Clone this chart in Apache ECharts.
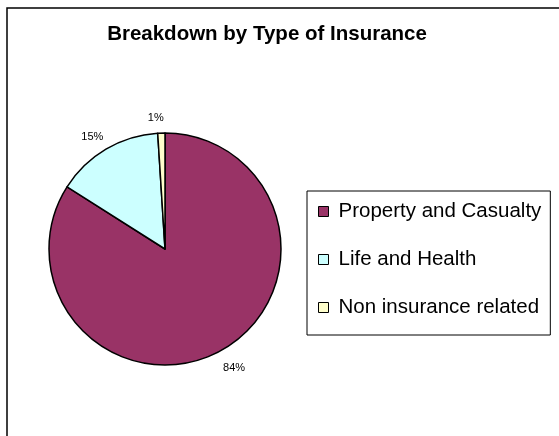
<!DOCTYPE html>
<html>
<head>
<meta charset="utf-8">
<script src="https://cdn.jsdelivr.net/npm/echarts@6/dist/echarts.min.js"></script>
<style>
html,body{margin:0;padding:0;background:#fff;}
#chart{width:559px;height:436px;}
</style>
</head>
<body>
<div id="chart"></div>
<script>
var titleText = 'Breakdown by Type of Insurance';
var categories = ['Property and Casualty', 'Life and Health', 'Non insurance related'];
var values = [84, 15, 1];
var colors = ['#993366', '#CCFFFF', '#FFFFCC'];

var chart = echarts.init(document.getElementById('chart'), null, {renderer: 'canvas'});
var font = '"Liberation Sans", Arial, sans-serif';
var option = {
  animation: false,
  backgroundColor: '#ffffff',
  title: {
    text: titleText,
    left: 262,
    textAlign: 'center',
    top: 19,
    textStyle: {fontFamily: font, fontSize: 20.5, fontWeight: 'bold', color: '#000'}
  },
  legend: {
    orient: 'vertical',
    left: 307,
    top: 191,
    padding: [10, 9, 17, 11],
    borderColor: '#000',
    borderWidth: 1,
    itemWidth: 10,
    itemHeight: 10,
    itemGap: 27,
    icon: 'rect',
    data: categories,
    itemStyle: {borderColor: '#000', borderWidth: 1},
    textStyle: {fontFamily: font, fontSize: 20.5, color: '#000', padding: [0, 0, 0, 5]}
  },
  graphic: [{
    type: 'rect',
    shape: {x: 7, y: 8, width: 700, height: 600},
    style: {fill: 'none', stroke: '#000', lineWidth: 1.5},
    silent: true
  }],
  series: [{
    type: 'pie',
    center: [165, 249],
    radius: 116,
    startAngle: 90,
    clockwise: true,
    avoidLabelOverlap: false,
    data: categories.map(function (c, i) {
      return {name: c, value: values[i], itemStyle: {color: colors[i]}};
    }),
    itemStyle: {borderColor: '#000', borderWidth: 1.5},
    label: {
      show: true,
      position: 'outside',
      formatter: '{d}%',
      fontFamily: font,
      fontSize: 11,
      color: '#000'
    },
    labelLine: {show: false, length: 17, length2: 0},
    labelLayout: function () {
      return {align: 'center', verticalAlign: 'middle', dy: 2};
    },
    emphasis: {disabled: true}
  }]
};
chart.setOption(option);
</script>
</body>
</html>
